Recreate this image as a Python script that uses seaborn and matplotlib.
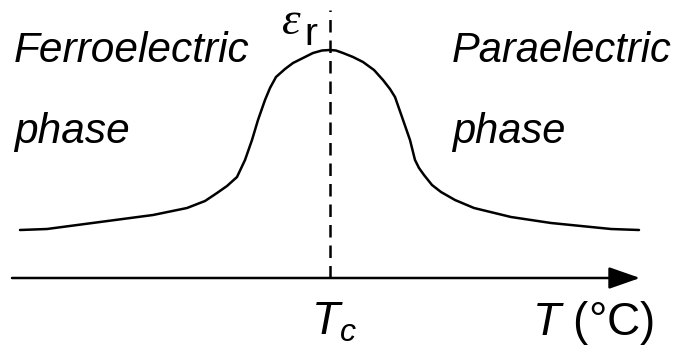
import matplotlib
matplotlib.use("Agg")
import matplotlib.pyplot as plt
import seaborn as sns
import pandas as pd

# Schematic data: temperature relative to Curie point (arbitrary units) and relative permittivity (arb. units)
temp_offset = [-310, -283, -230, -177, -143, -125, -113, -103, -93, -85, -78, -72, -65, -60, -54,
               -45, -37, -27, -17, -8, 0,
               6, 13, 23, 33, 44, 53, 60, 65, 72, 80, 85, 89, 94, 102, 111, 125, 144, 181, 221, 281, 309]
permittivity = [48, 49, 56, 63, 70, 77, 85, 92, 101, 118, 138, 158, 178, 190, 201,
                209, 215, 220, 225, 227.5, 228,
                227.5, 225, 221, 216, 208, 198, 189, 181, 161, 138, 118, 110, 103, 93, 86, 78, 70, 61, 55, 49, 48]
curie_temp = 0
left_labels = ["Ferroelectric", "phase"]
right_labels = ["Paraelectric", "phase"]

sns.set_theme(style="white")
plt.rcParams["font.family"] = ["Liberation Sans", "DejaVu Sans"]
plt.rcParams["mathtext.fontset"] = "custom"
plt.rcParams["mathtext.rm"] = "Liberation Sans"
plt.rcParams["mathtext.it"] = "Liberation Sans:italic"
plt.rcParams["mathtext.bf"] = "Liberation Sans:bold"
plt.rcParams["text.color"] = "black"

fig = plt.figure(figsize=(6.88, 3.47), dpi=100)
ax = fig.add_axes([0, 0, 1, 1])
ax.set_xlim(-330, 358)
ax.set_ylim(-69, 278)
ax.axis("off")

df = pd.DataFrame({"T": temp_offset, "eps": permittivity})
sns.lineplot(data=df, x="T", y="eps", ax=ax, color="black", lw=1.8,
             sort=False, estimator=None)

# Curie temperature dashed line
ax.plot([curie_temp, curie_temp], [0, 268], color="black", lw=1.8,
        linestyle=(0, (5.0, 3.2)))

# Temperature axis with arrow
ax.annotate("", xy=(310, 0), xytext=(-318, 0),
            arrowprops=dict(arrowstyle="-|>,head_length=0.4,head_width=0.14",
                            mutation_scale=48, lw=1.8, color="black",
                            shrinkA=0, shrinkB=0))

fs = 30.5
ax.text(-316, 215.7, left_labels[0], fontsize=fs, style="italic", ha="left", va="baseline", color="black")
ax.text(-316, 135, left_labels[1], fontsize=fs, style="italic", ha="left", va="baseline", color="black")
ax.text(122, 215.7, right_labels[0], fontsize=30, style="italic", ha="left", va="baseline", color="black")
ax.text(122, 135, right_labels[1], fontsize=30, style="italic", ha="left", va="baseline", color="black")

# epsilon_r label
ax.text(-48, 244, "ε", fontsize=34, family="Liberation Serif", style="italic",
        ha="left", va="baseline", color="black")
ax.text(-26, 233, "r", fontsize=28, ha="left", va="baseline", color="black")

# Tc and T labels
ax.text(-19, -56, r"$T_c$", fontsize=33, ha="left", va="baseline", color="black")
ax.text(202, -57, r"$T$ (°C)", fontsize=33, ha="left", va="baseline", color="black")

fig.savefig("out.png", dpi=100)
